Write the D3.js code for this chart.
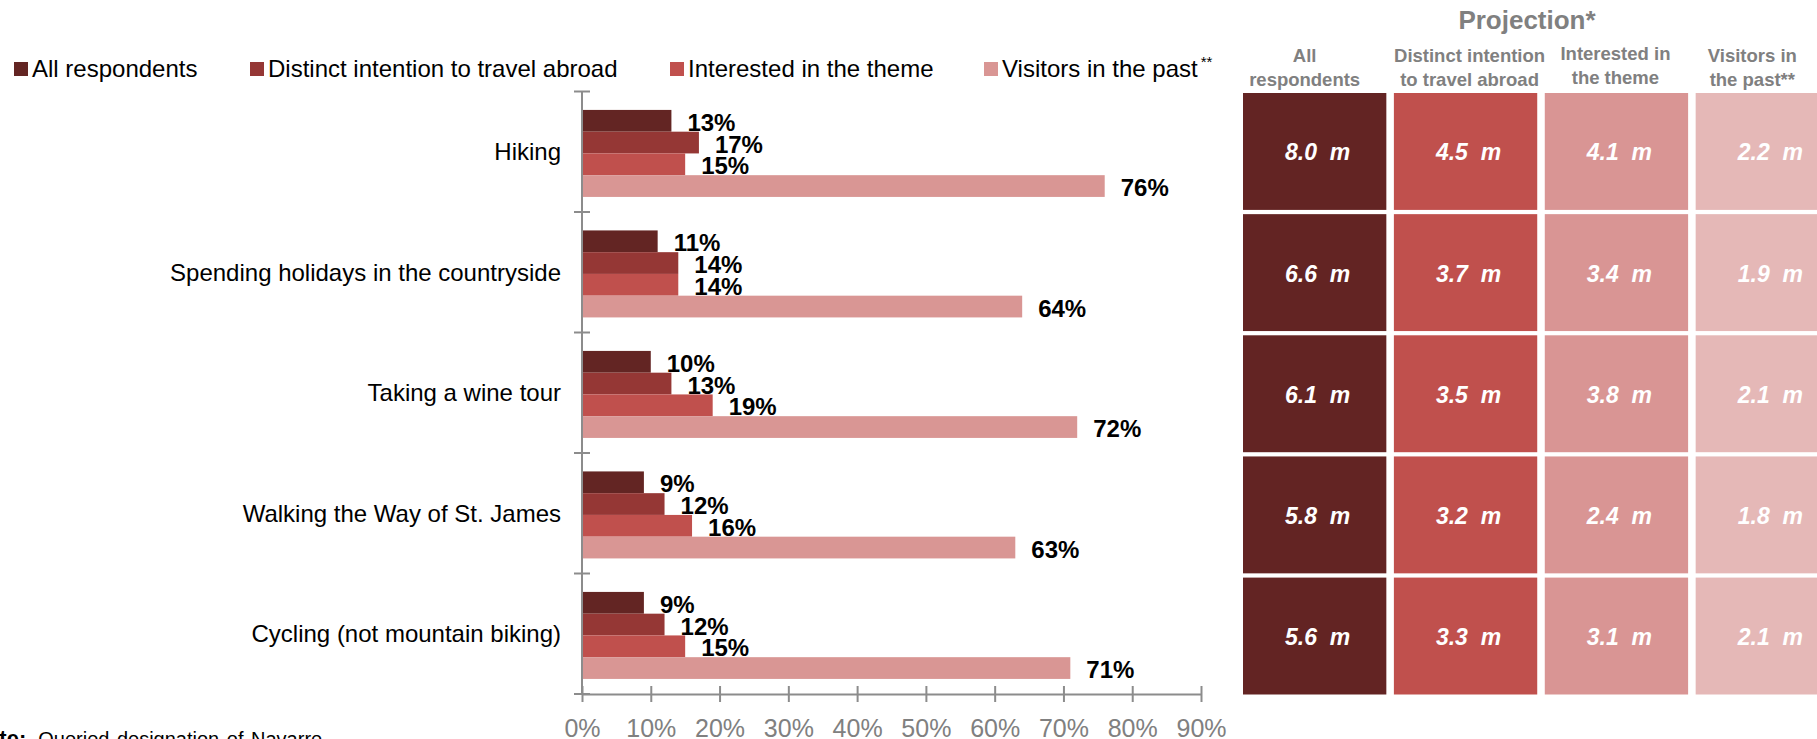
<!DOCTYPE html>
<html>
<head>
<meta charset="utf-8">
<script src="https://cdn.jsdelivr.net/npm/d3@7"></script>
<style>
  html, body { margin: 0; padding: 0; background: #fff; }
  svg { display: block; font-family: "Liberation Sans", Arial, sans-serif; }
</style>
</head>
<body>
<svg id="chart" width="1817" height="739"></svg>
<script>
// Activities and survey groups
const categories = [
  "Hiking",
  "Spending holidays in the countryside",
  "Taking a wine tour",
  "Walking the Way of St. James",
  "Cycling (not mountain biking)"
];
const seriesNames = [
  "All respondents",
  "Distinct intention to travel abroad",
  "Interested in the theme",
  "Visitors in the past"
];
// Share of each group interested in the activity (%)
const allRespondents   = [13, 11, 10, 9, 9];
const distinctIntent   = [17, 14, 13, 12, 12];
const interestedTheme  = [15, 14, 19, 16, 15];
const pastVisitors     = [76, 64, 72, 63, 71];
const seriesValues = [allRespondents, distinctIntent, interestedTheme, pastVisitors];

// Projected number of people (millions)
const projAll        = [8.0, 6.6, 6.1, 5.8, 5.6];
const projIntent     = [4.5, 3.7, 3.5, 3.2, 3.3];
const projInterested = [4.1, 3.4, 3.8, 2.4, 3.1];
const projVisitors   = [2.2, 1.9, 2.1, 1.8, 2.1];
const projColumns = [projAll, projIntent, projInterested, projVisitors];
const projHeaders = [
  ["All", "respondents"],
  ["Distinct intention", "to travel abroad"],
  ["Interested in", "the theme"],
  ["Visitors in", "the past**"]
];

const tickValues = [0, 10, 20, 30, 40, 50, 60, 70, 80, 90];

const barColors  = ["#632523", "#953735", "#C0504D", "#D99694"];
const cellColors = ["#632423", "#C0504D", "#D99594", "#E5B8B7"];
const axisColor  = "#8C8C8C";
const grayText   = "#808080";

const svg = d3.select("#chart");

// ---- Bar chart ----
const x = d3.scaleLinear().domain([0, 90]).range([582, 1201]);
const y = d3.scaleBand().domain(categories).range([91.5, 694]);
const inner = d3.scaleBand().domain(seriesNames).range([0, y.bandwidth()])
  .paddingInner(0).paddingOuter(0.77).align(0.55);

const rows = categories.map((c, i) => ({
  cat: c,
  vals: seriesNames.map((s, j) => ({ series: s, j, v: seriesValues[j][i] }))
}));

const groups = svg.append("g").selectAll("g.grp")
  .data(rows).join("g")
  .attr("class", "grp")
  .attr("transform", d => `translate(0,${y(d.cat)})`);

groups.selectAll("rect")
  .data(d => d.vals).join("rect")
  .attr("x", x(0))
  .attr("y", d => inner(d.series))
  .attr("width", d => x(d.v) - x(0))
  .attr("height", inner.bandwidth())
  .attr("fill", d => barColors[d.j]);

groups.selectAll("text.val")
  .data(d => d.vals).join("text")
  .attr("class", "val")
  .attr("x", d => x(d.v) + 16)
  .attr("y", d => inner(d.series) + inner.bandwidth() / 2 + 10)
  .attr("font-size", 24)
  .attr("font-weight", "bold")
  .attr("fill", "#000")
  .text(d => d.v + "%");

// Category labels
svg.append("g").selectAll("text")
  .data(categories).join("text")
  .attr("x", 561)
  .attr("y", d => y(d) + y.bandwidth() / 2)
  .attr("dy", "0.35em")
  .attr("text-anchor", "end")
  .attr("font-size", 24)
  .attr("fill", "#000")
  .text(d => d);

// Vertical axis with ticks at band boundaries
const yAxisG = svg.append("g");
const yBounds = categories.map(c => y(c)).concat([y.range()[1]]);
yAxisG.append("line")
  .attr("x1", x(0)).attr("x2", x(0))
  .attr("y1", y.range()[0]).attr("y2", y.range()[1])
  .attr("stroke", axisColor).attr("stroke-width", 2);
yAxisG.selectAll("line.tk")
  .data(yBounds).join("line")
  .attr("class", "tk")
  .attr("x1", x(0) - 8).attr("x2", x(0) + 8)
  .attr("y1", d => d).attr("y2", d => d)
  .attr("stroke", axisColor).attr("stroke-width", 2);

// Horizontal axis
const xAxis = d3.axisBottom(x)
  .tickValues(tickValues)
  .tickFormat(d => d + "%")
  .tickSizeOuter(0);
const xAxisG = svg.append("g")
  .attr("transform", `translate(0,${y.range()[1]})`)
  .call(xAxis);
xAxisG.select(".domain").attr("stroke", axisColor).attr("stroke-width", 2);
xAxisG.selectAll(".tick line")
  .attr("y1", -8).attr("y2", 8)
  .attr("stroke", axisColor).attr("stroke-width", 2);
xAxisG.selectAll(".tick text")
  .attr("y", 43).attr("dy", 0)
  .attr("font-size", 25)
  .attr("font-family", "Liberation Sans, Arial, sans-serif")
  .attr("fill", grayText);

// Legend
const legendX = [14, 250, 670, 984];
const legend = svg.append("g").selectAll("g")
  .data(seriesNames).join("g")
  .attr("transform", (d, i) => `translate(${legendX[i]},0)`);
legend.append("rect")
  .attr("x", 0).attr("y", 62).attr("width", 14).attr("height", 14)
  .attr("fill", (d, i) => barColors[i]);
const legText = legend.append("text")
  .attr("x", 18).attr("y", 77)
  .attr("font-size", 24)
  .attr("fill", "#000")
  .text(d => d);
legText.filter((d, i) => i === 3)
  .append("tspan")
  .attr("dx", 3).attr("dy", -10)
  .attr("font-size", 15)
  .text("**");

// ---- Projection table ----
const colX = d3.scaleBand().domain(d3.range(4)).range([1243, 1839]).paddingInner(0.05).paddingOuter(0);
const rowY = d3.scaleBand().domain(categories).range([93, 694.5]).paddingInner(0.035);

svg.append("text")
  .attr("x", 1527).attr("y", 29)
  .attr("text-anchor", "middle")
  .attr("font-size", 26).attr("font-weight", "bold")
  .attr("fill", grayText)
  .text("Projection*");

const headerShift = [-10, 4, -1, -15];
const headerG = svg.append("g").selectAll("text")
  .data(projHeaders).join("text")
  .attr("text-anchor", "middle")
  .attr("font-size", 18.5).attr("font-weight", "bold")
  .attr("fill", grayText);
headerG.selectAll("tspan")
  .data((d, i) => d.map((line, k) => ({ line, k, i })))
  .join("tspan")
  .attr("x", d => colX(d.i) + colX.bandwidth() / 2 + headerShift[d.i])
  .attr("y", d => (d.i === 2 ? 60 : 62) + d.k * 24)
  .text(d => d.line);

const cells = [];
projColumns.forEach((col, j) => col.forEach((v, i) => cells.push({ j, cat: categories[i], v })));

const cellG = svg.append("g").selectAll("g")
  .data(cells).join("g")
  .attr("transform", d => `translate(${colX(d.j)},${rowY(d.cat)})`);
cellG.append("rect")
  .attr("width", colX.bandwidth())
  .attr("height", rowY.bandwidth())
  .attr("fill", d => cellColors[d.j]);
cellG.append("text")
  .attr("x", colX.bandwidth() / 2 + 3)
  .attr("y", rowY.bandwidth() / 2 + 9)
  .attr("text-anchor", "middle")
  .attr("font-size", 23)
  .attr("font-weight", "bold")
  .attr("font-style", "italic")
  .attr("fill", "#fff")
  .style("white-space", "pre")
  .text(d => d.v.toFixed(1) + "  m");

// Footnote
const note = svg.append("text")
  .attr("x", -30).attr("y", 746)
  .attr("font-size", 20)
  .attr("fill", "#000");
note.append("tspan").attr("font-weight", "bold").attr("font-size", 22).text("Note:");
note.append("tspan").attr("dx", 12).style("white-space", "pre").attr("word-spacing", 2).text("Queried designation of Navarre");
</script>
</body>
</html>
